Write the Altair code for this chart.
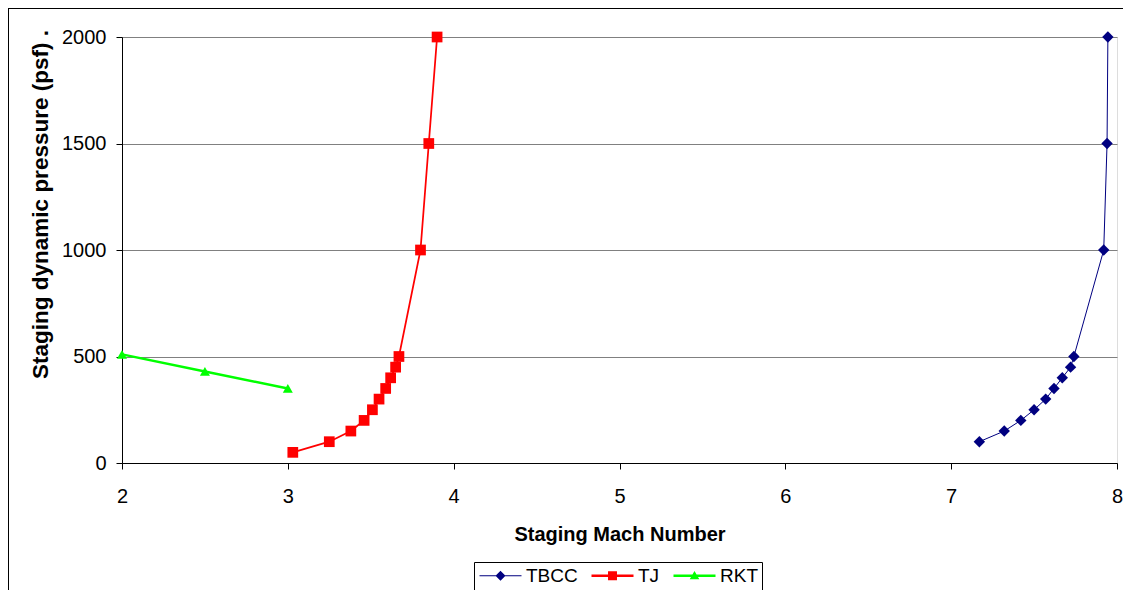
import altair as alt
import pandas as pd

# ---- data ----
series = ["TBCC", "TJ", "RKT"]
tbcc_mach = [7.17, 7.32, 7.42, 7.50, 7.57, 7.62, 7.67, 7.72, 7.74, 7.92, 7.94, 7.945]
tbcc_q = [100, 150, 200, 250, 300, 350, 400, 450, 500, 1000, 1500, 2000]
tj_mach = [3.03, 3.25, 3.38, 3.46, 3.51, 3.55, 3.59, 3.62, 3.65, 3.67, 3.80, 3.85, 3.90]
tj_q = [50, 100, 150, 200, 250, 300, 350, 400, 450, 500, 1000, 1500, 2000]
rkt_mach = [2.0, 2.5, 3.0]
rkt_q = [510, 430, 350]
x_ticks = [2, 3, 4, 5, 6, 7, 8]
y_ticks = [0, 500, 1000, 1500, 2000]

# ---- styles ----
colors = ["#000080", "#FF0000", "#00FF00"]
stroke_widths = [1, 2.5, 2.5]
point_shapes = ["diamond", "square", "triangle-up"]
point_sizes = [130, 100, 110]
legend_paths = [
    "M-2.625,-0.0625L2.625,-0.0625L2.625,0.0625L-2.625,0.0625Z"
    "M0,-0.625L0.625,0L0,0.625L-0.625,0Z",
    "M-2.625,-0.156L2.625,-0.156L2.625,0.156L-2.625,0.156Z"
    "M-0.56,-0.56L0.56,-0.56L0.56,0.56L-0.56,0.56Z",
    "M-2.625,-0.156L2.625,-0.156L2.625,0.156L-2.625,0.156Z"
    "M0,-0.6L0.6,0.45L-0.6,0.45Z",
]
FONT = "Liberation Sans"

rows = []
for name, xs, ys in zip(series, [tbcc_mach, tj_mach, rkt_mach], [tbcc_q, tj_q, rkt_q]):
    for i, (mx, qy) in enumerate(zip(xs, ys)):
        rows.append({"series": name, "mach": mx, "q": qy, "idx": i})
df = pd.DataFrame(rows)

X = alt.X(
    "mach:Q",
    scale=alt.Scale(domain=[2, 8], nice=False, zero=False),
    axis=alt.Axis(
        title="Staging Mach Number", values=x_ticks, format="d", grid=False,
        domainColor="black", tickColor="black", tickSize=6, labelPadding=17,
        titlePadding=18, labelFontSize=20, titleFontSize=20, titleFontWeight="bold",
        labelColor="black", titleColor="black", labelFlush=False, labelFont=FONT,
        titleFont=FONT,
    ),
)
Y = alt.Y(
    "q:Q",
    scale=alt.Scale(domain=[0, 2000], nice=False),
    axis=alt.Axis(
        title="Staging dynamic pressure (psf) .", values=y_ticks, format="d", grid=True,
        gridColor="#808080", gridOpacity=1, gridWidth=1,
        domainColor="black", tickColor="black", tickSize=6, labelPadding=10,
        titlePadding=9, labelFontSize=20, titleFontSize=22.5, titleFontWeight="bold",
        titleY=167, labelColor="black", titleColor="black", labelFont=FONT,
        titleFont=FONT,
    ),
)
color_scale = alt.Scale(domain=series, range=colors)

lines = alt.Chart(df).mark_line().encode(
    x=X, y=Y,
    color=alt.Color("series:N", scale=color_scale, legend=None),
    strokeWidth=alt.StrokeWidth("series:N", scale=alt.Scale(domain=series, range=stroke_widths), legend=None),
    order=alt.Order("idx:Q"),
)

points = alt.Chart(df).mark_point(filled=True, opacity=1).encode(
    x=X, y=Y,
    color=alt.Color("series:N", scale=color_scale, legend=None),
    shape=alt.Shape("series:N", scale=alt.Scale(domain=series, range=point_shapes), legend=None),
    size=alt.Size("series:N", scale=alt.Scale(domain=series, range=point_sizes), legend=None),
)

leg = alt.Legend(
    orient="none", legendX=352, legendY=525, direction="horizontal", title=None,
    labelFont=FONT, labelFontSize=19, labelColor="black", strokeColor="black",
    fillColor="white", padding=4, symbolSize=256, symbolStrokeWidth=0,
    symbolOffset=13, labelOffset=16, columnPadding=12, symbolOpacity=1,
)
legend_layer = alt.Chart(df).mark_point(filled=True, opacity=1, size=256, strokeWidth=0).encode(
    x=X, y=Y,
    color=alt.Color("series:N", scale=color_scale, legend=leg),
    shape=alt.Shape("series:N", scale=alt.Scale(domain=series, range=legend_paths), legend=leg),
).transform_filter("false")

frame_df = pd.DataFrame({"k": [0]})
frame_left = alt.Chart(frame_df).mark_rule(color="black", strokeWidth=1).encode(
    x=alt.value(-113.5), y=alt.value(-28.5), y2=alt.value(553)
)
frame_top = alt.Chart(frame_df).mark_rule(color="black", strokeWidth=1).encode(
    x=alt.value(-114), x2=alt.value(1001), y=alt.value(-28.5)
)

chart = alt.layer(lines, points, legend_layer, frame_left, frame_top).resolve_scale(
    color="independent", shape="independent"
).properties(
    width=995, height=426,
    padding={"left": 114, "top": 29, "right": 6, "bottom": 127},
    autosize="none",
).configure_view(stroke="#808080", strokeWidth=1).configure(font=FONT)

chart.save("out.html", embed_options={"renderer": "svg", "actions": False})
